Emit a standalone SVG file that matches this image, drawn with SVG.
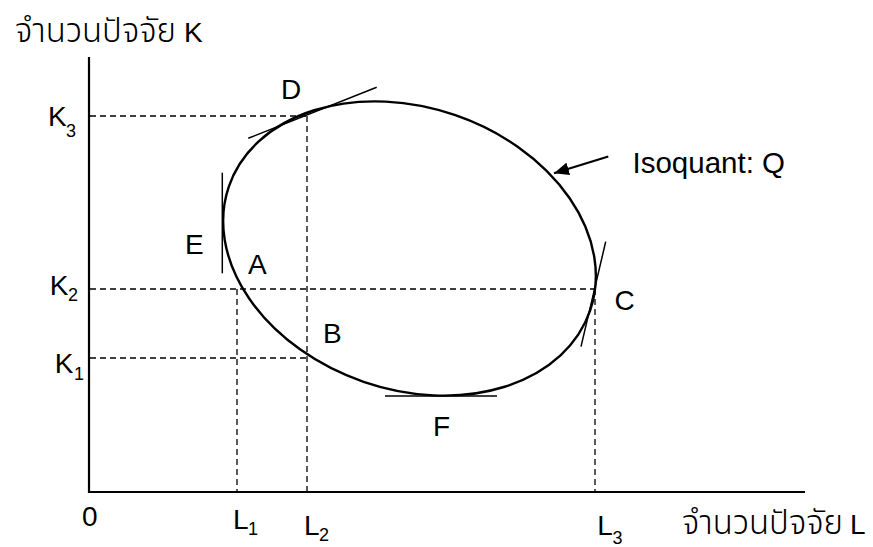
<svg xmlns="http://www.w3.org/2000/svg" width="873" height="547" viewBox="0 0 873 547">
<style>
.axis{stroke:#000;stroke-width:2.2;fill:none}
.dash{stroke:#000;stroke-width:1.3;stroke-dasharray:6 4;fill:none}
.curve{stroke:#000;stroke-width:2.4;fill:none}
.tan{stroke:#000;stroke-width:1.5;fill:none}
.lbl{font-family:"Liberation Sans",Arial,sans-serif;font-size:28px;font-weight:400;fill:#000}
.sub{font-family:"Liberation Sans",Arial,sans-serif;font-size:18px;fill:#000}
.thai{font-family:"Liberation Sans","Noto Sans Thai","Noto Sans",sans-serif;font-size:33px;font-weight:300;fill:#000}
</style>
<defs>
<marker id="ah" viewBox="0 0 15 13" refX="15" refY="6.5" markerWidth="15" markerHeight="13" markerUnits="userSpaceOnUse" orient="auto">
<path d="M0,0 L15,6.5 L0,13 z" fill="#000"/>
</marker>
</defs>
<g id="axes">
<line class="axis" x1="89" y1="57" x2="89" y2="493"/>
<line class="axis" x1="88" y1="492" x2="805" y2="492"/>
</g>
<g id="guides">
<line class="dash" x1="90" y1="116" x2="307" y2="116"/>
<line class="dash" x1="307" y1="116" x2="307" y2="491"/>
<line class="dash" x1="90" y1="289" x2="595" y2="289"/>
<line class="dash" x1="237" y1="289" x2="237" y2="491"/>
<line class="dash" x1="595" y1="289" x2="595" y2="491"/>
<line class="dash" x1="90" y1="358" x2="307" y2="358"/>
</g>
<g id="isoquant">
<ellipse class="curve" cx="409.5" cy="248.5" rx="191" ry="141" transform="rotate(19 409.5 248.5)"/>
</g>
<g id="tangents">
<line class="tan" x1="248.3" y1="138.3" x2="376.7" y2="87.3"/>
<line class="tan" x1="222.3" y1="172.7" x2="222.3" y2="273.3"/>
<line class="tan" x1="605.7" y1="241.7" x2="581" y2="346.7"/>
<line class="tan" x1="385" y1="396" x2="497" y2="396"/>
</g>
<g id="connectors">
<line x1="608.3" y1="156.5" x2="554" y2="173.3" stroke="#000" stroke-width="2.2" marker-end="url(#ah)"/>
</g>
<g id="labels">
<text class="thai" x="15" y="42">จำนวนปัจจัย<tspan class="lbl" x="184">K</tspan></text>
<text class="thai" x="682" y="534">จำนวนปัจจัย<tspan class="lbl" x="850">L</tspan></text>
<text class="lbl" x="632.5" y="173" style="font-size:29.5px">Isoquant: Q</text>
<text class="lbl" x="281" y="99">D</text>
<text class="lbl" x="185" y="254.3">E</text>
<text class="lbl" x="248" y="274">A</text>
<text class="lbl" x="323" y="342.7">B</text>
<text class="lbl" x="614.5" y="310">C</text>
<text class="lbl" x="433" y="436.3">F</text>
<text class="lbl" x="82" y="526.3">0</text>
<text class="lbl" x="48" y="126">K</text><text class="sub" x="66" y="136.7">3</text>
<text class="lbl" x="49.7" y="294.7">K</text><text class="sub" x="68" y="300.7">2</text>
<text class="lbl" x="54.7" y="373">K</text><text class="sub" x="74" y="380.3">1</text>
<text class="lbl" x="233" y="529">L</text><text class="sub" x="248" y="534.7">1</text>
<text class="lbl" x="304" y="534.7">L</text><text class="sub" x="319" y="541.3">2</text>
<text class="lbl" x="597.3" y="534.7">L</text><text class="sub" x="612.5" y="544">3</text>
</g>
</svg>
